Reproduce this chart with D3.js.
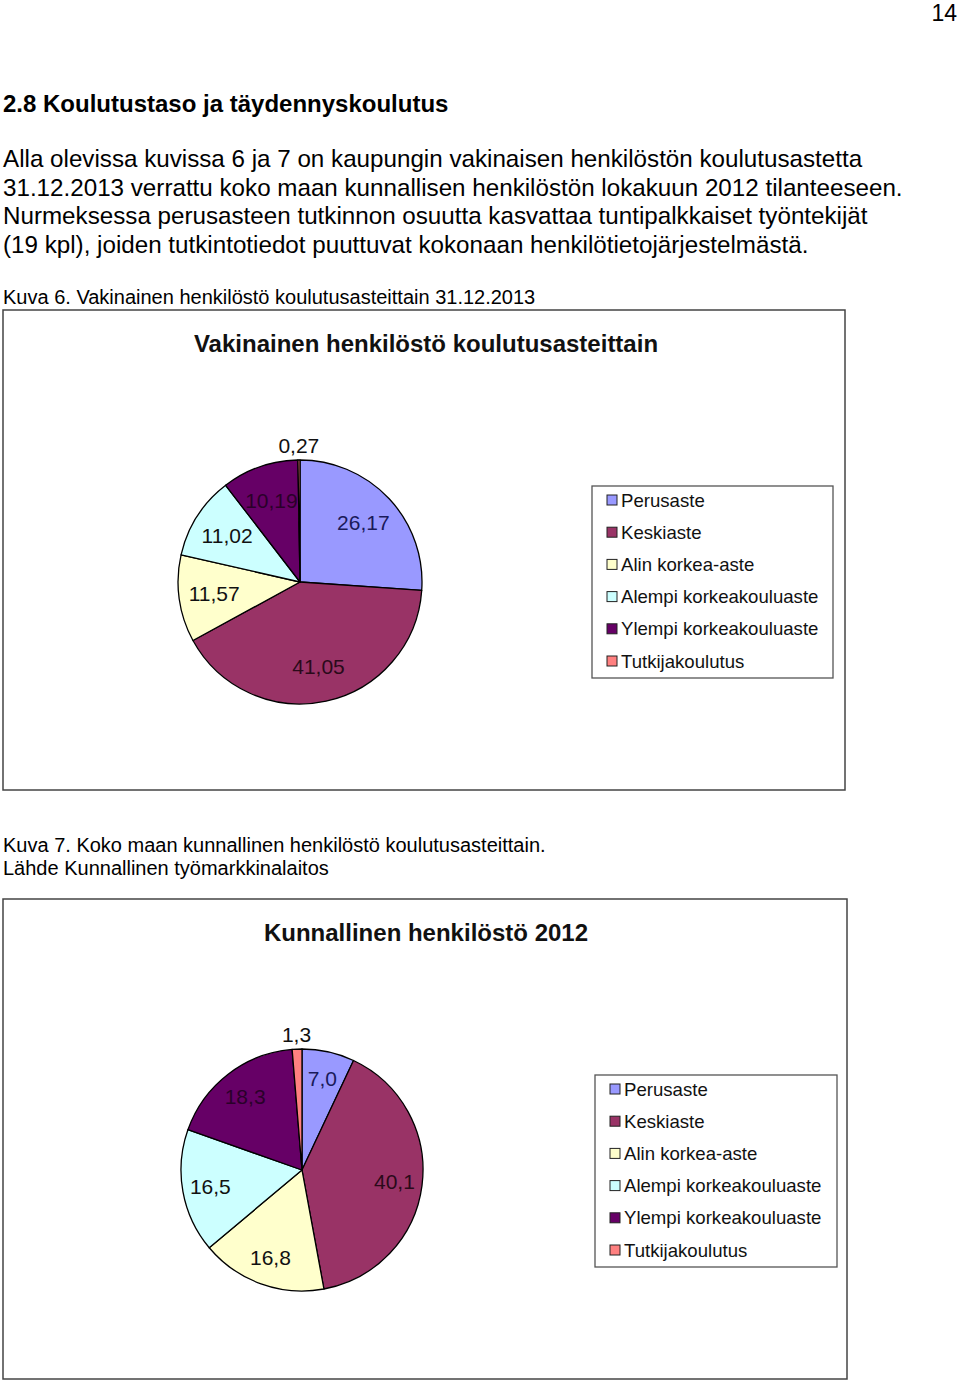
<!DOCTYPE html>
<html><head><meta charset="utf-8">
<script src="https://cdn.jsdelivr.net/npm/d3@7"></script>
<style>
html,body{margin:0;padding:0;background:#fff;}
svg text{font-family:"Liberation Sans",Arial,sans-serif;}
</style></head>
<body>
<svg id="page" width="960" height="1380"></svg>
<script>
// ---- data ----
const categories = ["Perusaste","Keskiaste","Alin korkea-aste","Alempi korkeakouluaste","Ylempi korkeakouluaste","Tutkijakoulutus"];
const colors = ["#9999FF","#993366","#FFFFCC","#CCFFFF","#660066","#FF8080"];
const values2013 = [26.17, 41.05, 11.57, 11.02, 10.19, 0.27];
const values2012 = [7.0, 40.1, 16.8, 16.5, 18.3, 1.3];
const title2013 = "Vakinainen henkilöstö koulutusasteittain";
const title2012 = "Kunnallinen henkilöstö 2012";
const pageNumber = "14";
const heading = "2.8 Koulutustaso ja täydennyskoulutus";
const bodyLines = [
  "Alla olevissa kuvissa 6 ja 7 on kaupungin vakinaisen henkilöstön koulutusastetta",
  "31.12.2013 verrattu koko maan kunnallisen henkilöstön lokakuun 2012 tilanteeseen.",
  "Nurmeksessa perusasteen tutkinnon osuutta kasvattaa tuntipalkkaiset työntekijät",
  "(19 kpl), joiden tutkintotiedot puuttuvat kokonaan henkilötietojärjestelmästä."
];
const caption6 = "Kuva 6. Vakinainen henkilöstö koulutusasteittain 31.12.2013";
const caption7 = ["Kuva 7. Koko maan kunnallinen henkilöstö koulutusasteittain.", "Lähde Kunnallinen työmarkkinalaitos"];

const svg = d3.select("#page");

// page text
svg.append("text").attr("x",957).attr("y",21).attr("text-anchor","end")
  .attr("font-size",23).text(pageNumber);
svg.append("text").attr("x",3).attr("y",112).attr("font-size",24).attr("font-weight","bold").text(heading);
bodyLines.forEach((l,i)=>{
  svg.append("text").attr("x",3).attr("y",167+i*28.5).attr("font-size",24.2).text(l);
});
svg.append("text").attr("x",3).attr("y",304).attr("font-size",20).text(caption6);
caption7.forEach((l,i)=>{
  svg.append("text").attr("x",3).attr("y",852+i*23).attr("font-size",20).text(l);
});

function drawChart(cfg){
  const g = svg.append("g");
  g.append("rect").attr("x",cfg.box[0]).attr("y",cfg.box[1]).attr("width",cfg.box[2]).attr("height",cfg.box[3])
    .attr("fill","#fff").attr("stroke","#444").attr("stroke-width",1.5);
  g.append("text").attr("x",cfg.titleX).attr("y",cfg.titleY).attr("text-anchor","middle")
    .attr("font-size",24).attr("font-weight","bold").attr("fill","#111").text(cfg.title);

  const data = categories.map((c,i)=>({cat:c, value:cfg.values[i], color:colors[i], i}));
  const pie = d3.pie().sort(null).value(d=>d.value);
  const arcs = pie(data);
  const arc = d3.arc().innerRadius(0).outerRadius(cfg.r);
  const labelArc = d3.arc().innerRadius(cfg.r*cfg.lf).outerRadius(cfg.r*cfg.lf);
  const outArc = d3.arc().innerRadius(cfg.r+14).outerRadius(cfg.r+14);
  const pg = g.append("g").attr("transform",`translate(${cfg.cx},${cfg.cy})`);
  pg.selectAll("path").data(arcs).join("path")
    .attr("d",arc).attr("fill",d=>d.data.color).attr("stroke","#000").attr("stroke-width",1.3)
    .attr("stroke-linejoin","round");
  const fmt = d3.format(cfg.fmt);
  pg.selectAll("text.lbl").data(arcs).join("text").attr("class","lbl")
    .attr("transform",d=>{
      const small = d.data.value < 2;
      const c = small ? outArc.centroid(d) : labelArc.centroid(d);
      return `translate(${c[0]},${c[1]})`;
    })
    .attr("text-anchor","middle").attr("dy","0.35em").attr("font-size",21)
    .attr("fill",d=>cfg.labelColors[d.data.i])
    .text(d=>fmt(d.data.value).replace(".",","));

  // legend
  const lg = g.append("g");
  lg.append("rect").attr("x",cfg.legend[0]).attr("y",cfg.legend[1]).attr("width",cfg.legend[2]).attr("height",cfg.legend[3])
    .attr("fill","#fff").attr("stroke","#555").attr("stroke-width",1.3);
  const y = d3.scalePoint().domain(categories).range([cfg.legend[1]+14, cfg.legend[1]+175]);
  categories.forEach((c,i)=>{
    lg.append("rect").attr("x",cfg.legend[0]+15).attr("y",y(c)-5).attr("width",10).attr("height",10)
      .attr("fill",colors[i]).attr("stroke","#222").attr("stroke-width",1);
    lg.append("text").attr("x",cfg.legend[0]+29).attr("y",y(c)).attr("dy","0.35em")
      .attr("font-size",18.6).attr("fill","#111").text(c);
  });
}

drawChart({box:[3,310,842,480], title:title2013, titleX:426, titleY:352,
  values:values2013, cx:300, cy:582, r:122, lf:0.71, fmt:".2f",
  labelColors:["#1a1a5a","#2a0a1a","#111","#111","#2a002a","#111"],
  legend:[592,486,241,192]});
drawChart({box:[3,899,844,480], title:title2012, titleX:426, titleY:941,
  values:values2012, cx:302, cy:1170, r:121, lf:0.77, fmt:".1f",
  labelColors:["#1a1a5a","#2a0a1a","#111","#111","#2a002a","#111"],
  legend:[595,1075,242,192]});
</script>
</body></html>
